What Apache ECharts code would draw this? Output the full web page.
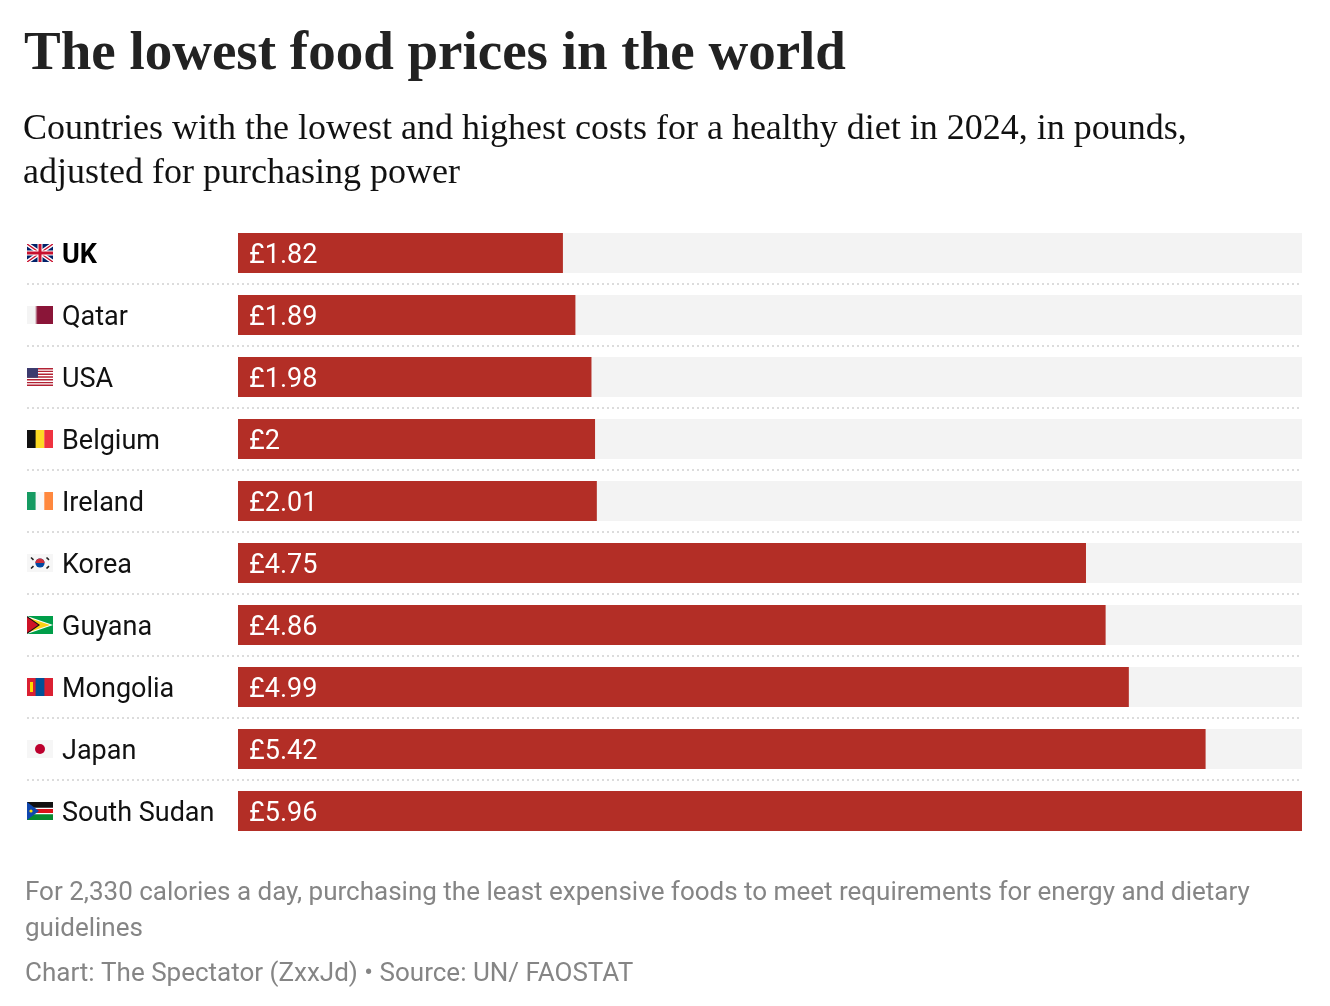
<!DOCTYPE html>
<html>
<head>
<meta charset="utf-8">
<style>
html,body{margin:0;padding:0;background:#fff;}
#chart{width:1330px;height:1006px;}
</style>
<script src="https://cdn.jsdelivr.net/npm/echarts@6/dist/echarts.min.js"></script>
</head>
<body>
<div id="chart"></div>
<script>
var countries = ['UK', 'Qatar', 'USA', 'Belgium', 'Ireland', 'Korea', 'Guyana', 'Mongolia', 'Japan', 'South Sudan'];
var costs = [1.82, 1.89, 1.98, 2.00, 2.01, 4.75, 4.86, 4.99, 5.42, 5.96];
var flagKeys = ['uk', 'qa', 'us', 'be', 'ie', 'kr', 'gy', 'mn', 'jp', 'ss'];
var highlighted = 'UK';

var titleText = 'The lowest food prices in the world';
var subtitleText = 'Countries with the lowest and highest costs for a healthy diet in 2024, in pounds,\nadjusted for purchasing power';
var noteText = 'For 2,330 calories a day, purchasing the least expensive foods to meet requirements for energy and dietary\nguidelines';
var sourceText = 'Chart: The Spectator (ZxxJd) \u2022 Source: UN/ FAOSTAT';

function svgURI(body) {
  var s = '<svg xmlns="http://www.w3.org/2000/svg" width="26" height="18" viewBox="0 0 26 18">' + body + '</svg>';
  return 'data:image/svg+xml;charset=utf-8,' + encodeURIComponent(s);
}
var flagSVG = {
  uk: '<rect width="26" height="18" fill="#012169"/><path d="M0,0L26,18M26,0L0,18" stroke="#fff" stroke-width="4"/><path d="M0,0L26,18M26,0L0,18" stroke="#C8102E" stroke-width="1.4"/><path d="M13,0V18M0,9H26" stroke="#fff" stroke-width="5"/><path d="M13,0V18M0,9H26" stroke="#C8102E" stroke-width="3"/>',
  qa: '<rect width="26" height="18" fill="#8A1538"/><path d="M0,0H8L10.5,1L8,2L10.5,3L8,4L10.5,5L8,6L10.5,7L8,8L10.5,9L8,10L10.5,11L8,12L10.5,13L8,14L10.5,15L8,16L10.5,17L8,18H0Z" fill="#f4f4f4"/>',
  us: '<rect width="26" height="18" fill="#fff"/><path d="M0,0.7H26M0,3.4H26M0,6.2H26M0,9H26M0,11.8H26M0,14.6H26M0,17.3H26" stroke="#B22234" stroke-width="1.4"/><rect width="11" height="9.7" fill="#3C3B6E"/>',
  be: '<rect width="9" height="18" fill="#111"/><rect x="8.6" width="8.8" height="18" fill="#FDDA24"/><rect x="17.3" width="8.7" height="18" fill="#EF3340"/>',
  ie: '<rect width="9" height="18" fill="#169B62"/><rect x="8.6" width="8.8" height="18" fill="#f8f8f8"/><rect x="17.3" width="8.7" height="18" fill="#FF883E"/>',
  kr: '<rect width="26" height="18" fill="#f6f6f6"/><circle cx="13" cy="9" r="4.6" fill="#0047A0"/><path d="M8.4,9A4.6,4.6 0 0 1 17.6,9Z" fill="#CD2E3A"/><path d="M4,3.5L6.5,5.8M19.5,3.5L22,5.8M4,14.5L6.5,12.2M19.5,14.5L22,12.2" stroke="#222" stroke-width="1.6"/>',
  gy: '<rect width="26" height="18" fill="#009E49"/><path d="M0,0L26,9L0,18Z" fill="#fff"/><path d="M0,1.2L23,9L0,16.8Z" fill="#FCD116"/><path d="M0,0L13,9L0,18Z" fill="#111"/><path d="M0,1.3L11.2,9L0,16.7Z" fill="#CE1126"/>',
  mn: '<rect width="26" height="18" fill="#DA2032"/><rect x="8.6" width="8.8" height="18" fill="#015197"/><rect x="3" y="4" width="3" height="10" fill="#FFD900"/>',
  jp: '<rect width="26" height="18" fill="#f6f6f6"/><circle cx="13" cy="9" r="5" fill="#BC002D"/>',
  ss: '<rect width="26" height="18" fill="#078930"/><rect width="26" height="7" fill="#111"/><rect y="5.8" width="26" height="6.4" fill="#fff"/><rect y="7" width="26" height="4" fill="#DA121A"/><path d="M0,0L12,9L0,18Z" fill="#0F47AF"/><circle cx="4" cy="9" r="1.6" fill="#FCDD09"/>'
};

var rich = {
  name: { fontFamily: 'Roboto', fontSize: 27, color: '#111', padding: [6, 0, 0, 9] },
  nameBold: { fontFamily: 'Roboto', fontSize: 27, color: '#000', fontWeight: 'bold', padding: [6, 0, 0, 9] }
};
flagKeys.forEach(function (k) {
  rich['f_' + k] = { width: 26, height: 18, backgroundColor: { image: svgURI(flagSVG[k]) } };
});

var chart = echarts.init(document.getElementById('chart'), null, { renderer: 'canvas' });
var option = {
  animation: false,
  backgroundColor: '#fff',
  title: [
    { text: titleText, left: 24, top: 27, padding: 0, textStyle: { fontFamily: 'Liberation Serif', fontWeight: 'bold', fontSize: 55, color: '#222' } },
    { text: subtitleText, left: 23, top: 108, padding: 0, textStyle: { fontFamily: 'Liberation Serif', fontWeight: 'normal', fontSize: 36, lineHeight: 44, color: '#111' } },
    { text: noteText, left: 25, top: 875, padding: 0, textStyle: { fontFamily: 'Roboto', fontWeight: 'normal', fontSize: 26, lineHeight: 36, color: '#858585' } },
    { text: sourceText, left: 25, top: 961, padding: 0, textStyle: { fontFamily: 'Roboto', fontWeight: 'normal', fontSize: 26, color: '#858585' } }
  ],
  grid: [
    { left: 238, right: 28, top: 222, height: 620, containLabel: false },
    { left: 27, right: 28, top: 284, height: 496, containLabel: false }
  ],
  xAxis: [
    { type: 'value', gridIndex: 0, min: 0, max: 5.96, show: false },
    { type: 'value', gridIndex: 1, min: 0, max: 1, show: false }
  ],
  yAxis: [
    {
      type: 'category', gridIndex: 0, data: countries, inverse: true,
      axisLine: { show: false }, axisTick: { show: false }, splitLine: { show: false },
      axisLabel: {
        align: 'left', margin: 211,
        formatter: function (v, i) {
          var nm = v === highlighted ? '{nameBold|' + v + '}' : '{name|' + v + '}';
          return '{f_' + flagKeys[i] + '|}' + nm;
        },
        rich: rich
      }
    },
    {
      type: 'value', gridIndex: 1, min: 1, max: countries.length - 1, interval: 1, inverse: true,
      axisLine: { show: false }, axisTick: { show: false }, axisLabel: { show: false },
      splitLine: {
        show: true,
        lineStyle: { color: '#dcdcdc', width: 2, type: [2, 3] }
      }
    }
  ],
  series: [
    {
      type: 'bar', xAxisIndex: 0, yAxisIndex: 0, data: costs, barWidth: 40,
      itemStyle: { color: '#B32E26' },
      showBackground: true,
      backgroundStyle: { color: '#F3F3F3' },
      label: {
        show: true, position: 'insideLeft', distance: 11, offset: [0, 3], color: '#fff',
        fontFamily: 'Roboto', fontSize: 27,
        formatter: function (p) { return '\u00a3' + p.value; }
      },
      silent: true
    },
    {
      type: 'scatter', xAxisIndex: 1, yAxisIndex: 1, data: [], silent: true
    }
  ]
};
chart.setOption(option);
</script>
</body>
</html>
